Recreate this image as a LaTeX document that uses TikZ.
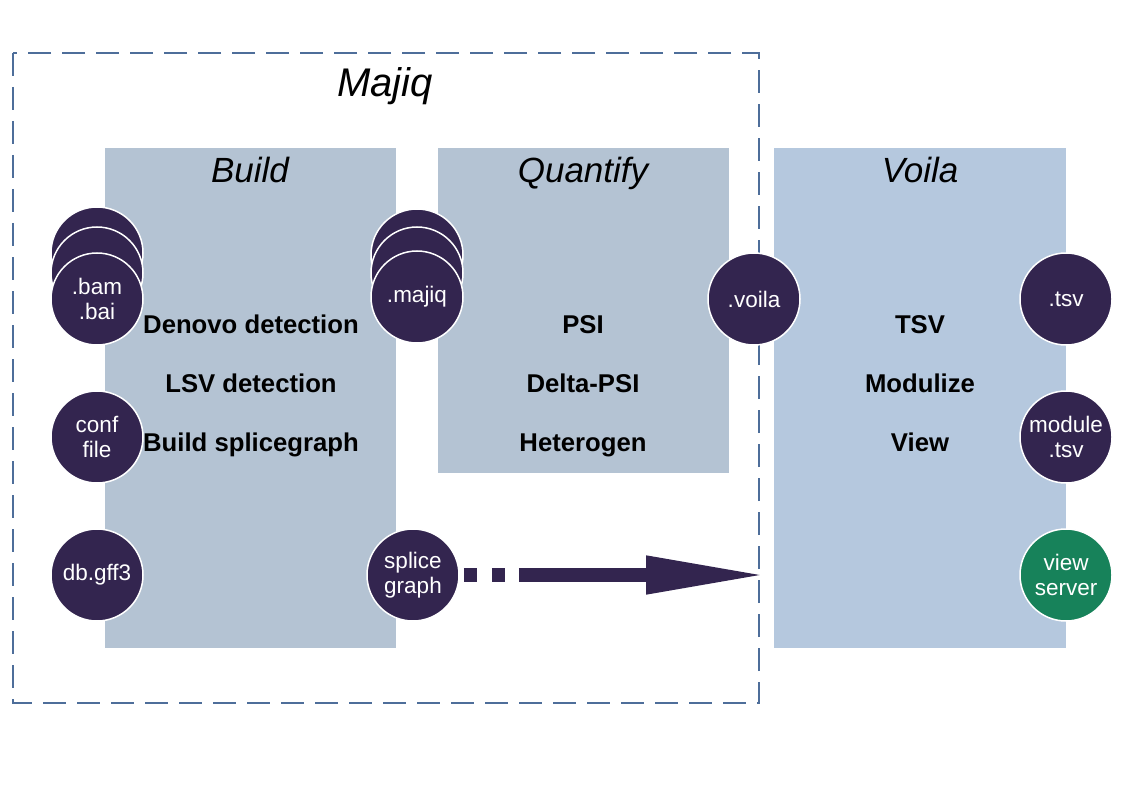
\documentclass[tikz,border=0pt]{standalone}
\usepackage{fontspec}
\setmainfont{Liberation Sans}
\usetikzlibrary{arrows.meta}

\definecolor{stagegray}{HTML}{B4C3D3}
\definecolor{stageblue}{HTML}{B5C8DE}
\definecolor{filepurple}{HTML}{33254F}
\definecolor{servergreen}{HTML}{17825A}
\definecolor{majiqline}{HTML}{4E6E9A}

\begin{document}
\begin{tikzpicture}[x=1pt, y=-1pt,
   file/.style={circle, fill=filepurple, draw=white, line width=1.5pt, minimum size=92pt, inner sep=0pt, text=white, align=center, font=\fontsize{22.5}{25}\selectfont},
   title/.style={anchor=base, font=\fontsize{35}{40}\selectfont\itshape},
   task/.style={anchor=base, font=\fontsize{25.7}{28}\selectfont\bfseries}]

   \useasboundingbox (0,0) rectangle (1123,794);

   % Majiq
   \draw [majiqline, line width=1.5pt, dash pattern=on 23pt off 11pt](13,53) rectangle (759,703);
   \node [anchor=base, font=\fontsize{40}{46}\selectfont\itshape] (majiq) at (385,97) {Majiq};

   % Build
   \fill [stagegray](105,148) rectangle (396,648);
   \node [title] (build) at (250,183) {Build};
   \node [task] (denovo) at (251,333) {Denovo detection};
   \node [task] (lsv) at (251,392) {LSV detection};
   \node [task] (splicegraph) at (251,451) {Build splicegraph};

   % Quantify
   \fill [stagegray](438,148) rectangle (729,473);
   \node [title] (quantify) at (583,183) {Quantify};
   \node [task] (psi) at (583,333) {PSI};
   \node [task] (deltapsi) at (583,392) {Delta-PSI};
   \node [task] (heterogen) at (583,451) {Heterogen};

   % Voila
   \fill [stageblue](774,148) rectangle (1066,648);
   \node [title] (voila) at (920,183) {Voila};
   \node [task] (tsv) at (920,333) {TSV};
   \node [task] (modulize) at (920,392) {Modulize};
   \node [task] (view) at (920,451) {View};

   % ファイル
   \node [file] (bamC) at (97,253) {};
   \node [file] (bamB) at (97,273) {};
   \node [file] (bam) at (97,299) {.bam\\.bai};
   \node [file] (conf) at (97,437) {conf\\file};
   \node [file] (gff) at (97,575) {db.gff3};

   \node [file] (majiqC) at (417,255) {};
   \node [file] (majiqB) at (417,273) {};
   \node [file] (majiqfile) at (417,297) {.majiq};
   \node [file] (splice) at (413,575) {splice\\graph};

   \node [file] (voilafile) at (754,299) {.voila};
   \node [file] (tsvfile) at (1066,299) {.tsv};
   \node [file] (module) at (1066,437) {module\\.tsv};
   \node [file, fill=servergreen] (server) at (1066,575) {view\\server};

   % 矢印
   \coordinate (voilaIn) at (759,575);
   \draw [filepurple, line width=14pt, dash pattern=on 13pt off 15pt on 13pt off 14pt on 400pt, shorten <=4pt, shorten >=-9pt, -{Triangle[length=122pt, width=35pt]}](splice) -- (voilaIn);

\end{tikzpicture}
\end{document}
